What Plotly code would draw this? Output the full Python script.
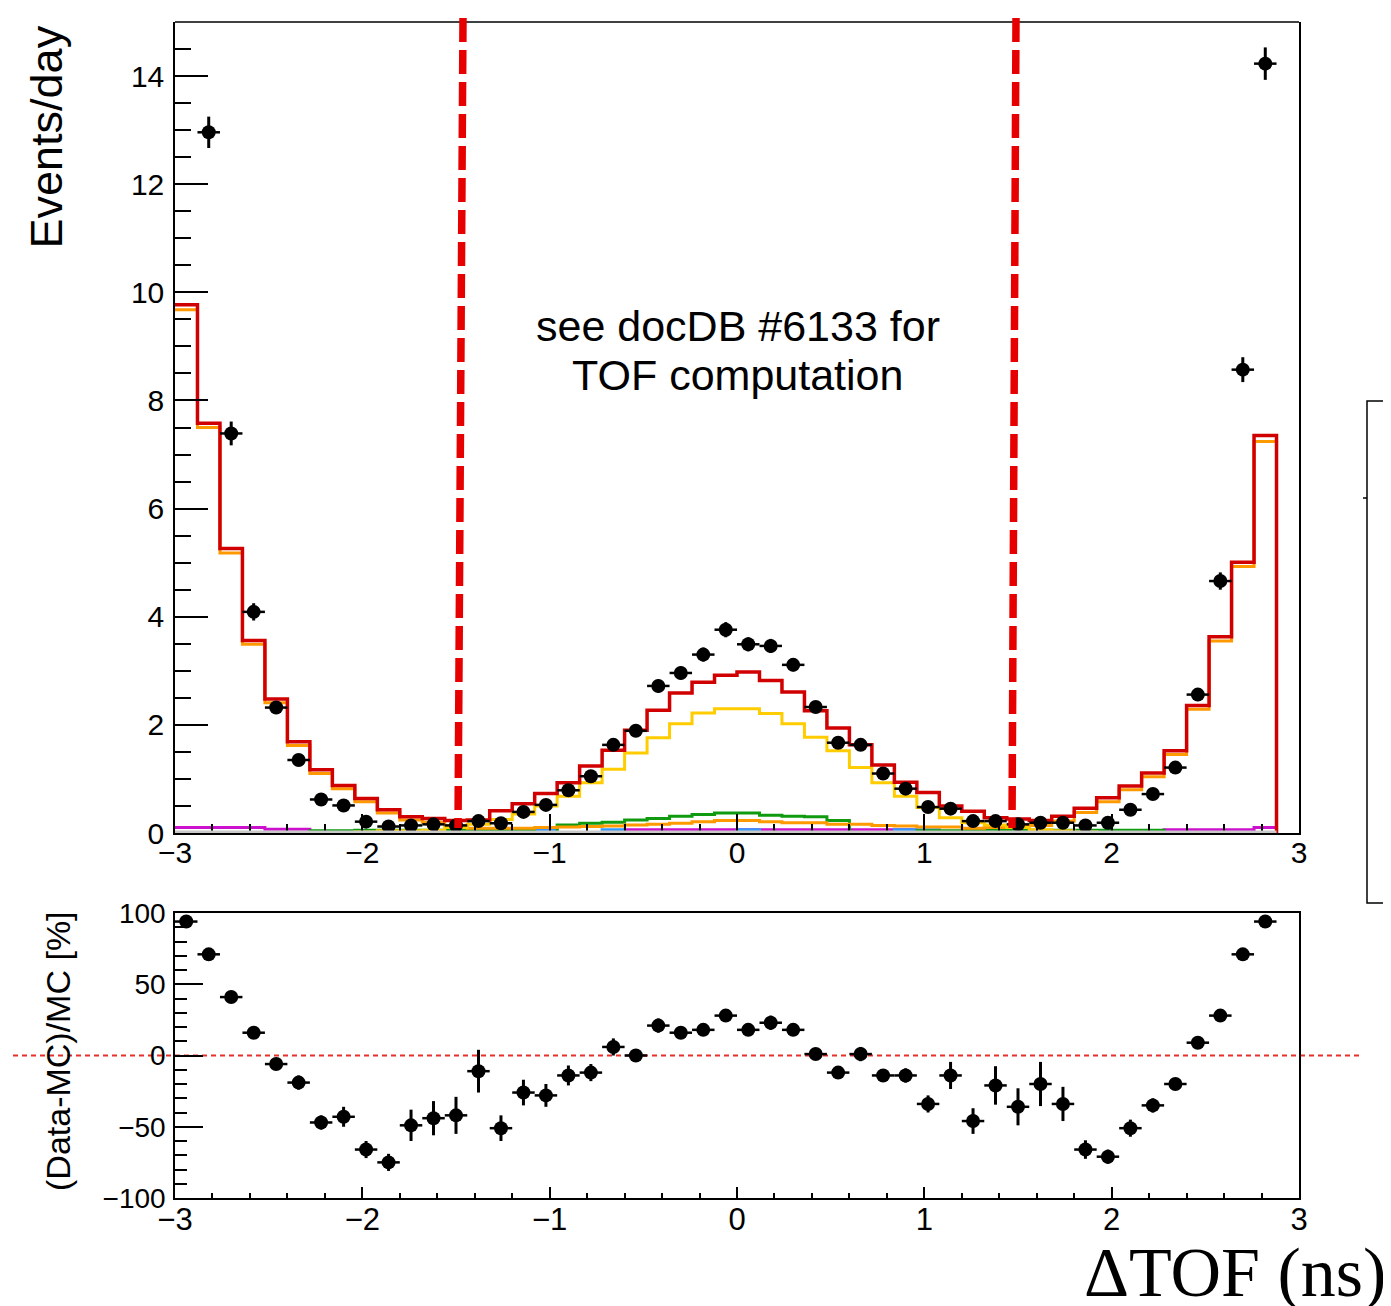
import numpy as np
import plotly.graph_objects as go

# ---------------- binning (histogram definition) ----------------
BIN_LO = -3.0
BIN_W = 0.12
N_BINS = 49
edges = np.round(BIN_LO + BIN_W * np.arange(N_BINS + 1), 4)
centers = np.round(edges[:-1] + BIN_W / 2, 4)

# ---------------- values (Events/day) ----------------
mc_total = [9.77, 7.58, 5.26, 3.56, 2.48, 1.69, 1.17, 0.88, 0.64, 0.43,
            0.30, 0.27, 0.23, 0.24, 0.41, 0.54, 0.73, 0.93, 1.24, 1.53,
            1.90, 2.27, 2.59, 2.79, 2.92, 2.98, 2.82, 2.61, 2.26, 1.94,
            1.63, 1.26, 0.94, 0.75, 0.50, 0.40, 0.28, 0.26, 0.23, 0.31,
            0.46, 0.65, 0.87, 1.11, 1.52, 2.36, 3.63, 5.01, 7.35]

mc_orange = [9.68, 7.50, 5.18, 3.49, 2.41, 1.62, 1.10, 0.82, 0.58, 0.37,
             0.24, 0.20, 0.13, 0.09, 0.09, 0.09, 0.10, 0.11, 0.12, 0.13,
             0.15, 0.16, 0.18, 0.21, 0.23, 0.23, 0.21, 0.19, 0.19, 0.16,
             0.16, 0.14, 0.13, 0.11, 0.11, 0.09, 0.10, 0.12, 0.14, 0.22,
             0.38, 0.58, 0.80, 1.04, 1.45, 2.29, 3.55, 4.93, 7.24]

mc_yellow = [0, 0, 0, 0, 0, 0, 0, 0, 0.02, 0.04,
             0.04, 0.05, 0.10, 0.16, 0.25, 0.35, 0.50, 0.68, 0.93, 1.18,
             1.48, 1.76, 2.02, 2.22, 2.30, 2.30, 2.21, 2.02, 1.77, 1.52,
             1.21, 0.93, 0.68, 0.47, 0.28, 0.19, 0.15, 0.10, 0.06, 0.04,
             0.02, 0, 0, 0, 0, 0, 0, 0, 0]

mc_green = [0, 0, 0, 0, 0, 0, 0.04, 0.04, 0.05, 0.05,
            0.05, 0.05, 0.05, 0.05, 0.05, 0.05, 0, 0.15, 0.18, 0.20,
            0.24, 0.27, 0.31, 0.34, 0.37, 0.37, 0.33, 0.31, 0.30, 0.23,
            0, 0, 0, 0.04, 0.04, 0.05, 0.05, 0.05, 0.05, 0.05,
            0.05, 0.05, 0.05, 0.05, 0, 0, 0, 0, 0]

mc_magenta = [0.10, 0.10, 0.10, 0.10, 0.07, 0.07, 0, 0, 0, 0,
              0, 0, 0, 0, 0, 0, 0, 0, 0, 0,
              0.06, 0.06, 0.06, 0.06, 0.06, 0.06, 0.06, 0.06, 0.06, 0.06,
              0.06, 0.06, 0.06, 0, 0, 0, 0, 0, 0, 0,
              0, 0, 0, 0, 0.06, 0.06, 0.06, 0.06, 0.10]

mc_blue = [0, 0, 0, 0, 0, 0, 0, 0, 0, 0,
           0, 0, 0, 0, 0, 0, 0.06, 0, 0, 0.06,
           0, 0, 0, 0, 0, 0.06, 0, 0, 0, 0,
           0, 0, 0.06, 0.06, 0, 0, 0, 0, 0, 0,
           0, 0, 0, 0, 0, 0, 0, 0, 0]

data_vals = [18.95, 12.96, 7.39, 4.09, 2.32, 1.35, 0.62, 0.51, 0.21, 0.12,
             0.14, 0.16, 0.14, 0.22, 0.18, 0.39, 0.52, 0.79, 1.05, 1.63,
             1.89, 2.72, 2.96, 3.30, 3.76, 3.49, 3.46, 3.11, 2.33, 1.67,
             1.63, 1.10, 0.82, 0.48, 0.45, 0.22, 0.22, 0.16, 0.19, 0.19,
             0.14, 0.19, 0.43, 0.72, 1.21, 2.56, 4.66, 8.57, 14.23]

data_err = [0.35, 0.29, 0.22, 0.16, 0.12, 0.10, 0.07, 0.06, 0.04, 0.03,
            0.03, 0.03, 0.03, 0.04, 0.04, 0.05, 0.06, 0.07, 0.08, 0.10,
            0.10, 0.12, 0.12, 0.13, 0.14, 0.13, 0.13, 0.12, 0.11, 0.10,
            0.10, 0.08, 0.07, 0.05, 0.05, 0.04, 0.04, 0.03, 0.04, 0.04,
            0.03, 0.03, 0.05, 0.06, 0.08, 0.12, 0.16, 0.23, 0.30]

# ratio panel, (Data-MC)/MC in %
ratio_vals = [94, 71, 41, 16, -6, -19, -47, -43, -66, -75,
              -49, -44, -42, -11, -51, -26, -28, -14, -12, 6,
              0, 21, 16, 18, 28, 18, 23, 18, 1, -12,
              1, -14, -14, -34, -14, -46, -21, -36, -20, -34,
              -66, -71, -51, -35, -20, 9, 28, 71, 94]

ratio_err = [3, 3, 3, 4, 4, 5, 5, 7, 6, 6,
             11, 12, 13, 15, 9, 9, 8, 7, 6, 6,
             4, 5, 4, 4, 4, 4, 5, 4, 4, 4,
             5, 4, 5, 6, 9.5, 9, 13.5, 13, 15.5, 12,
             6.5, 5, 6, 5, 4, 4, 3, 3, 2.5]

y_ticks_top = [0, 2, 4, 6, 8, 10, 12, 14]
y_ticks_ratio = [-100, -50, 0, 50, 100]
x_ticks = [-3, -2, -1, 0, 1, 2, 3]

note_lines = ["see docDB #6133 for", "TOF computation"]

# ---------------- geometry (page pixels -> paper) ----------------
OFF = 8                      # default page margin around the figure
W, H = 1391, 1306
PLOT_L, PLOT_R, PLOT_T, PLOT_B = 175, 1299, 22, 1198   # page pixels
PW, PH = PLOT_R - PLOT_L, PLOT_B - PLOT_T
ML = PLOT_L - OFF
MT = PLOT_T - OFF
MR = W - ML - PW
MB = H - MT - PH


def pxx(px):
    return (px - PLOT_L) / PW


def pxy(py):
    return (PLOT_B - py) / PH


FONT = "Liberation Sans, Arial, sans-serif"


def step(vals):
    xs = list(edges[:-1]) + [edges[-1], edges[-1]]
    ys = list(vals) + [vals[-1], 0]
    return xs, ys


fig = go.Figure()

components = [
    (mc_magenta, "#cc11cc", 3),
    (mc_blue, "#3399ff", 3),
    (mc_green, "#109a10", 3),
    (mc_orange, "#ff9900", 3),
    (mc_yellow, "#ffcc00", 3),
    (mc_total, "#d10000", 3.5),
]
for vals, col, lw in components:
    xs, ys = step(vals)
    fig.add_trace(go.Scatter(x=xs, y=ys, mode="lines", line=dict(color=col, width=lw, shape="hv"),
                             xaxis="x", yaxis="y", showlegend=False, hoverinfo="skip"))

fig.add_trace(go.Scatter(
    x=centers, y=data_vals, mode="markers",
    marker=dict(color="black", size=14),
    error_y=dict(type="data", array=data_err, color="black", thickness=3, width=0),
    error_x=dict(type="constant", value=BIN_W / 2, color="black", thickness=2.5, width=0),
    xaxis="x", yaxis="y", showlegend=False))

fig.add_trace(go.Scatter(
    x=centers, y=ratio_vals, mode="markers",
    marker=dict(color="black", size=14),
    error_y=dict(type="data", array=ratio_err, color="black", thickness=3, width=0),
    error_x=dict(type="constant", value=BIN_W / 2, color="black", thickness=2.5, width=0),
    xaxis="x2", yaxis="y2", showlegend=False))

top_bottom = pxy(833)
ratio_top = pxy(913)

axis_common = dict(showgrid=False, zeroline=False, ticks="inside", tickcolor="black",
                   tickwidth=1.5, layer="above traces", automargin=False)

fig.update_layout(
    width=W, height=H,
    margin=dict(l=ML, r=MR, t=MT, b=MB, pad=0, autoexpand=False),
    paper_bgcolor="white", plot_bgcolor="white",
    font=dict(family=FONT, color="black"),
    xaxis=dict(domain=[0, 1], anchor="y", range=[-3, 3], tickvals=x_ticks,
               ticklen=19, showline=True, linecolor="black", linewidth=1.5,
               tickfont=dict(size=30), ticklabelstandoff=-8,
               minor=dict(dtick=0.2, tick0=0, ticks="inside", ticklen=9,
                          tickcolor="black", tickwidth=1.5, showgrid=False),
               **axis_common),
    yaxis=dict(domain=[top_bottom, 1.0], anchor="x", range=[0, 15], tickvals=y_ticks_top,
               ticklen=33, showline=True, mirror=True, linecolor="black", linewidth=1.5,
               tickfont=dict(size=30), ticklabelstandoff=3,
               minor=dict(dtick=0.5, tick0=0, ticks="inside", ticklen=16,
                          tickcolor="black", tickwidth=1.5, showgrid=False),
               **axis_common),
    xaxis2=dict(domain=[0, 1], anchor="y2", range=[-3, 3], tickvals=x_ticks,
                ticklen=11, showline=True, mirror=True, linecolor="black", linewidth=1.5,
                tickfont=dict(size=31), ticklabelstandoff=-7,
                minor=dict(dtick=0.2, tick0=0, ticks="inside", ticklen=5,
                           tickcolor="black", tickwidth=1.5, showgrid=False),
                **axis_common),
    yaxis2=dict(domain=[0, ratio_top], anchor="x2", range=[-100, 100], tickvals=y_ticks_ratio,
                ticklen=28, showline=True, mirror=True, linecolor="black", linewidth=1.5,
                tickfont=dict(size=28), ticklabelstandoff=2,
                minor=dict(dtick=10, tick0=0, ticks="inside", ticklen=12,
                           tickcolor="black", tickwidth=1.5, showgrid=False),
                **axis_common),
)

shapes = [
    # top frame line of upper pad
    dict(type="line", xref="paper", yref="paper", x0=0, x1=1, y0=1, y1=1,
         line=dict(color="black", width=1.5), layer="above"),
    # light grey baseline under the histograms
    dict(type="line", xref="x", yref="y", x0=edges[0], x1=edges[-1], y0=0, y1=0,
         line=dict(color="#c8c8c8", width=5), layer="above"),
    # cut lines (paper-referenced so they can reach above the frame)
    dict(type="line", xref="paper", yref="paper", x0=pxx(463), x1=pxx(458),
         y0=pxy(18), y1=pxy(828), line=dict(color="#e60000", width=7.5, dash="24px,8px"),
         layer="above"),
    dict(type="line", xref="paper", yref="paper", x0=pxx(1016), x1=pxx(1012),
         y0=pxy(18), y1=pxy(828), line=dict(color="#e60000", width=7.5, dash="24px,8px"),
         layer="above"),
    # zero line of ratio panel
    dict(type="line", xref="paper", yref="y2", x0=pxx(13), x1=pxx(1363), y0=0, y1=0,
         line=dict(color="#e8302a", width=2, dash="5px,4px"), layer="below"),
    # cut-off legend box
    dict(type="rect", xref="paper", yref="paper", x0=pxx(1367), x1=pxx(1410),
         y0=pxy(903), y1=pxy(401), line=dict(color="black", width=1.5), layer="above"),
    dict(type="line", xref="paper", yref="paper", x0=pxx(1363), x1=pxx(1367),
         y0=pxy(498), y1=pxy(498), line=dict(color="black", width=1.5), layer="above"),
]
fig.update_layout(shapes=shapes)

annotations = [
    dict(text="Events/day", xref="paper", yref="paper", x=pxx(46), y=pxy(24),
         xanchor="center", yanchor="top", textangle=-90, showarrow=False,
         font=dict(family=FONT, size=45, color="black")),
    dict(text="(Data-MC)/MC [%]", xref="paper", yref="paper", x=pxx(58), y=pxy(909),
         xanchor="center", yanchor="top", textangle=-90, showarrow=False,
         font=dict(family=FONT, size=34, color="black")),
    dict(text=note_lines[0], xref="paper", yref="paper", x=pxx(737.5), y=pxy(326),
         xanchor="center", yanchor="middle", showarrow=False,
         font=dict(family=FONT, size=43, color="black")),
    dict(text=note_lines[1], xref="paper", yref="paper", x=pxx(737.5), y=pxy(375),
         xanchor="center", yanchor="middle", showarrow=False,
         font=dict(family=FONT, size=43, color="black")),
    dict(text="ΔTOF (ns)", xref="paper", yref="paper", x=pxx(1388), y=pxy(1272),
         xanchor="right", yanchor="middle", showarrow=False,
         font=dict(family="Liberation Serif, DejaVu Serif, serif", size=70, color="black")),
]
fig.update_layout(annotations=annotations)

fig.write_html("out.html")
